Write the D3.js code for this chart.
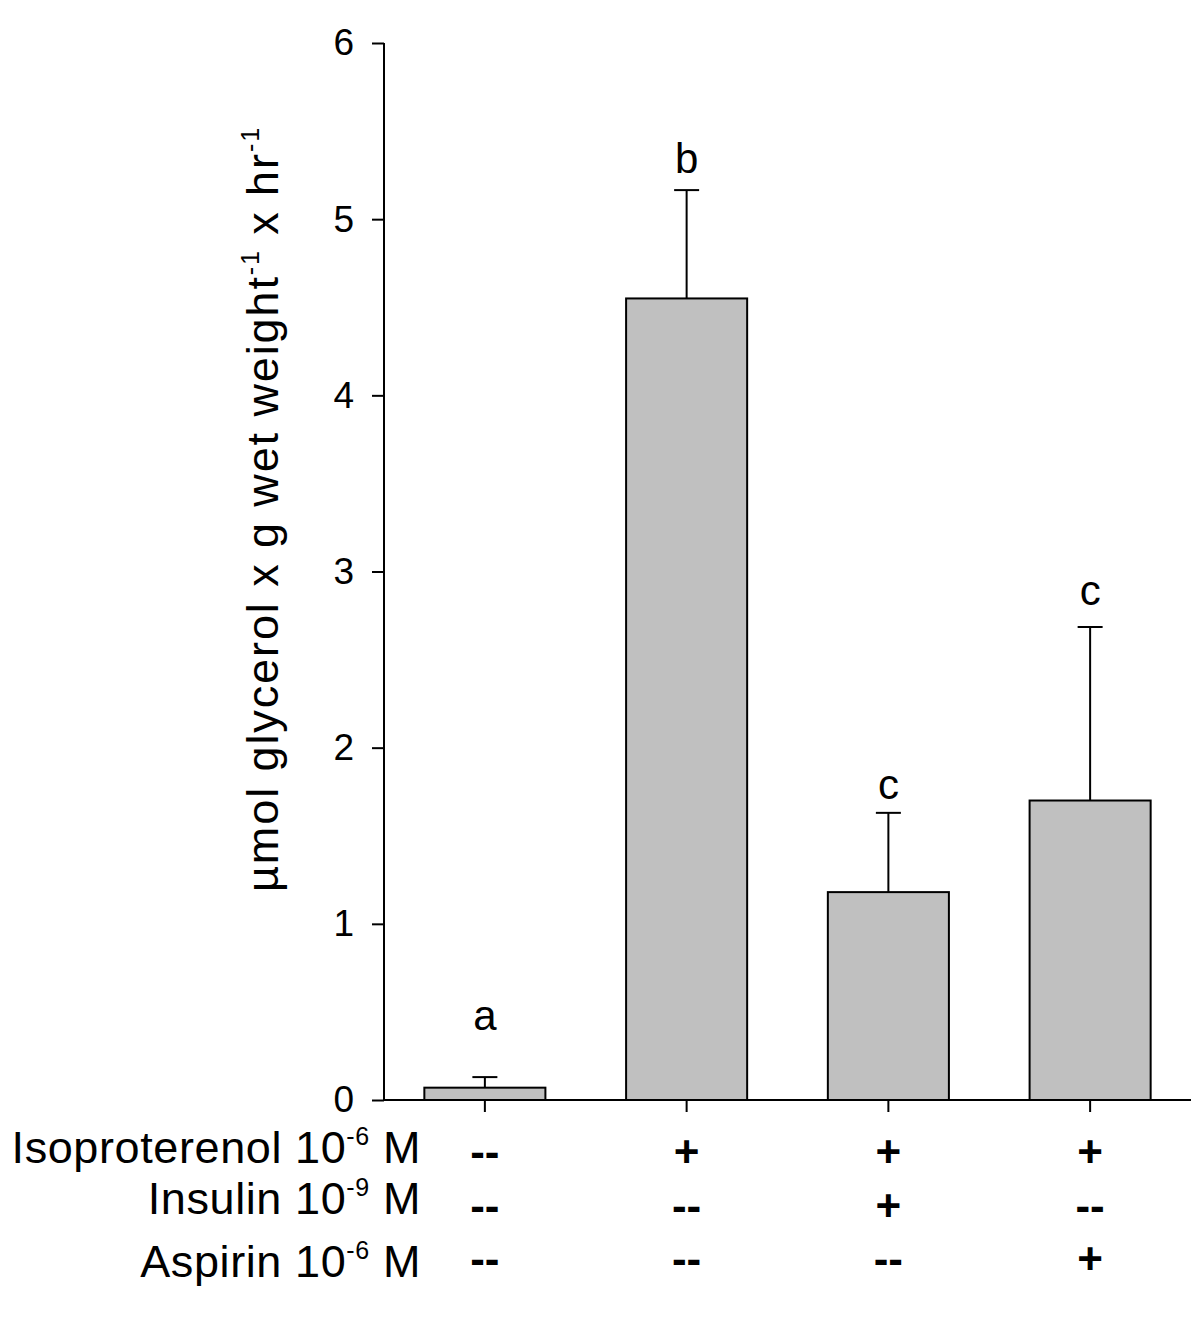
<!DOCTYPE html>
<html><head><meta charset="utf-8">
<script src="https://cdn.jsdelivr.net/npm/d3@7"></script>
<style>body{margin:0;background:#fff}svg{display:block}text{font-family:"Liberation Sans",Arial,sans-serif;fill:#000}</style>
</head><body>
<svg id="c" width="1200" height="1319"></svg>
<script>
const categories = ["ctrl","iso","iso+ins","iso+asp"];
const means = [0.07, 4.55, 1.18, 1.70];
const errors = [0.06, 0.615, 0.45, 0.985];
const letters = ["a","b","c","c"];
const letterValues = [0.40, 5.26, 1.71, 2.81];
const yTicks = [0,1,2,3,4,5,6];
const rowLabels = [["Isoproterenol 10","-6"," M"],["Insulin 10","-9"," M"],["Aspirin 10","-6"," M"]];
const rowValues = [["--","+","+","+"],["--","--","+","--"],["--","--","--","+"]];

const svg = d3.select("#c");
const x = d3.scaleBand().domain(categories).range([384,1191]).paddingInner(0.4).paddingOuter(0.2);
const y = d3.scaleLinear().domain([0,6]).range([1100,43]);

const yAxis = svg.append("g").attr("transform","translate(384,0)")
  .call(d3.axisLeft(y).tickValues(yTicks).tickSize(12).tickPadding(18).tickFormat(d3.format("d")));
yAxis.select(".domain").attr("d","M0,43V1100").attr("stroke-width",2);
yAxis.selectAll(".tick line").attr("stroke-width",2);
yAxis.selectAll("text").attr("font-size",37).style("font-family","Liberation Sans, Arial, sans-serif");

const xAxis = svg.append("g").attr("transform","translate(0,1100)")
  .call(d3.axisBottom(x).tickSize(12).tickFormat(""));
xAxis.select(".domain").attr("d","M384,0H1191").attr("stroke-width",2);
xAxis.selectAll(".tick line").attr("stroke-width",2);

const eb = svg.append("g");
categories.forEach((c,i)=>{
  const cx = x(c)+x.bandwidth()/2;
  eb.append("line").attr("x1",cx).attr("x2",cx).attr("y1",y(means[i])).attr("y2",y(means[i]+errors[i])).attr("stroke","#000").attr("stroke-width",2);
  eb.append("line").attr("x1",cx-12.5).attr("x2",cx+12.5).attr("y1",y(means[i]+errors[i])).attr("y2",y(means[i]+errors[i])).attr("stroke","#000").attr("stroke-width",2);
  svg.append("text").attr("x",cx).attr("y",y(letterValues[i])).attr("text-anchor","middle").attr("font-size",42).text(letters[i]);
});

svg.append("g").selectAll("rect").data(categories).join("rect")
  .attr("x",d=>x(d)).attr("width",x.bandwidth())
  .attr("y",(d,i)=>y(means[i])).attr("height",(d,i)=>y(0)-y(means[i]))
  .attr("fill","#c0c0c0").attr("stroke","#000").attr("stroke-width",2);

// y axis title
const yt = svg.append("text").attr("transform","translate(278,509) rotate(-90)").attr("text-anchor","middle").attr("font-size",45).attr("letter-spacing",1.9);
yt.append("tspan").text("\u00b5mol glycerol x g wet weight");
yt.append("tspan").attr("dy",-19).attr("font-size",25).text("-1");
yt.append("tspan").attr("dy",19).text(" x hr");
yt.append("tspan").attr("dy",-19).attr("font-size",25).text("-1");

// treatment table
const rowY = [1163,1214,1277];
const symY = [1167,1221,1274];
rowLabels.forEach((r,j)=>{
  const t = svg.append("text").attr("x",421).attr("y",rowY[j]).attr("text-anchor","end").attr("font-size",45).attr("letter-spacing",0.6);
  t.append("tspan").text(r[0]);
  t.append("tspan").attr("dy",-18).attr("font-size",25).text(r[1]);
  t.append("tspan").attr("dy",18).text(r[2]);
  categories.forEach((c,i)=>{
    const cx = x(c)+x.bandwidth()/2;
    svg.append("text").attr("x",cx).attr("y",symY[j]).attr("text-anchor","middle").attr("font-size",44).attr("font-weight","bold").text(rowValues[j][i]);
  });
});
</script>
</body></html>
